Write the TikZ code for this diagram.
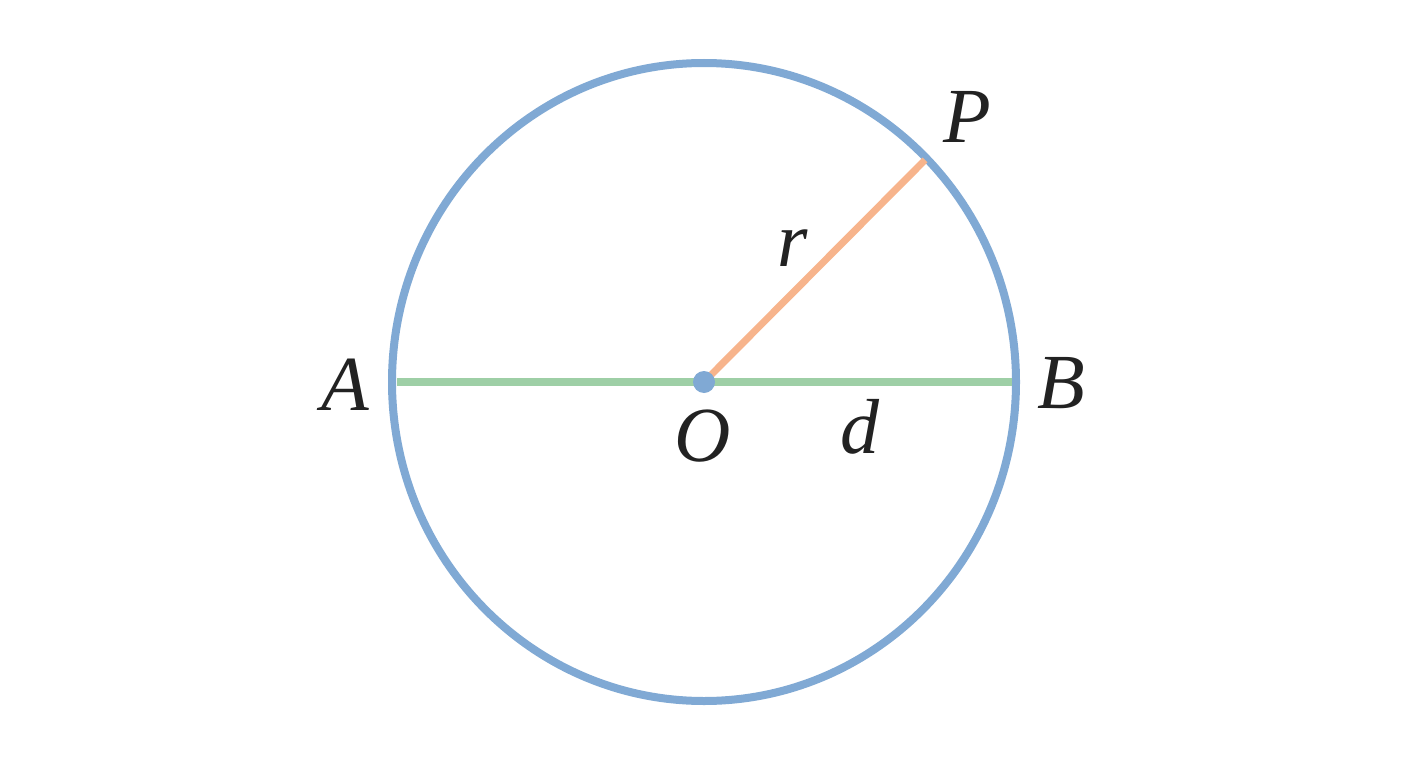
\documentclass[tikz,border=0pt]{standalone}
\usepackage{fontspec}
\setmainfont{Liberation Serif}
\definecolor{cblue}{HTML}{80A9D4}
\definecolor{cgreen}{HTML}{9ECFA6}
\definecolor{corange}{HTML}{F7B48C}
\definecolor{ctext}{HTML}{222222}
\tikzset{
  lbl/.style={anchor=base, inner sep=0pt, text=ctext, font=\fontsize{78}{80}\selectfont\itshape},
}
\begin{document}
\begin{tikzpicture}[x=1pt,y=-1pt]
\useasboundingbox (0,0) rectangle (1408,768);
\fill[white] (0,0) rectangle (1408,768);
\coordinate (O) at (704,382);
\coordinate (A) at (397,382);
\coordinate (B) at (1012,382);
\coordinate (P) at (925,160);
\draw[cblue, line width=8pt] (O) ellipse [x radius=312, y radius=319];
\draw[cgreen, line width=8pt] (A) -- (B);
\draw[corange, line width=7pt] (O) -- (P);
\fill[cblue] (O) circle (11);
\node[lbl] (lA) at (345,410) {A};
\node[lbl] (lB) at (1061,408) {B};
\node[lbl] (lP) at (967,142) {P};
\node[lbl] (lr) at (793,266) {r};
\node[lbl] (lO) at (703,461) {O};
\node[lbl] (ld) at (860,453) {d};
\end{tikzpicture}
\end{document}
